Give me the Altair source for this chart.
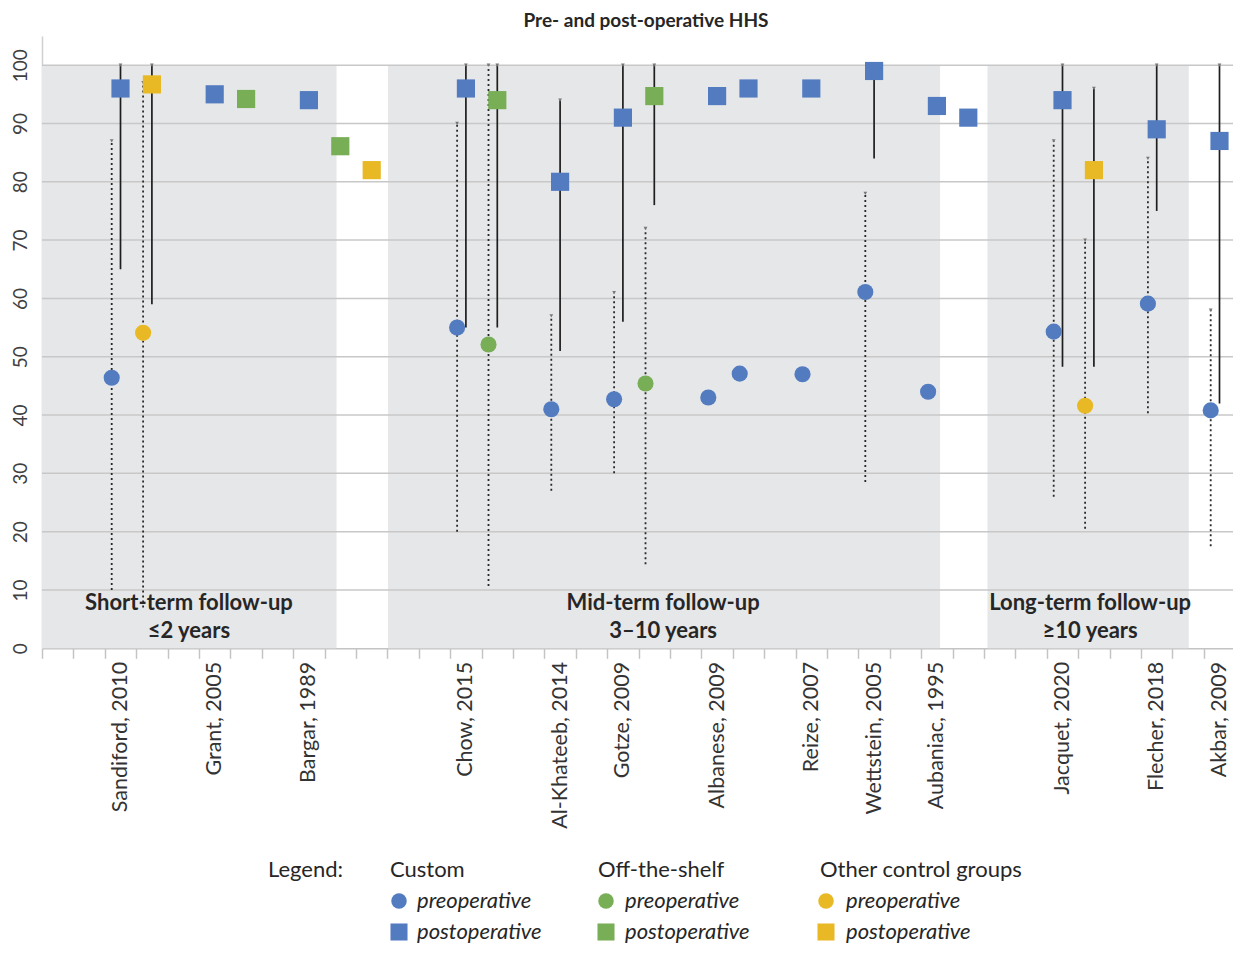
import altair as alt
import pandas as pd

FONT = "Lato"

# ---------------- data ----------------
studies = ["Sandiford, 2010", "Grant, 2005", "Bargar, 1989", "Chow, 2015", "Al-Khateeb, 2014",
           "Gotze, 2009", "Albanese, 2009", "Reize, 2007", "Wettstein, 2005", "Aubaniac, 1995",
           "Jacquet, 2020", "Flecher, 2018", "Akbar, 2009"]
study_slot = [2, 5, 8, 13, 16, 18, 21, 24, 26, 28, 32, 35, 37]

groups = ["Custom", "Off-the-shelf", "Other control groups"]
colors = ["#527BC0", "#78AE55", "#E8B825"]

C, S, O = groups

# preoperative HHS (mean, low/high whisker)
pre_slot = [2, 3, 13, 14, 16, 18, 19, 21, 22, 24, 26, 28, 32, 33, 35, 37]
pre_group = [C, O, C, S, C, C, S, C, C, C, C, C, C, O, C, C]
pre_mean = [46.4, 54.1, 55.0, 52.1, 41.0, 42.7, 45.4, 43.0, 47.1, 47.0, 61.1, 44.0, 54.3, 41.6, 59.1, 40.8]
pre_low = [10, 7, 20, 10.7, 27, 30, 14.4, None, None, None, 28.5, None, 26, 20.5, 40.3, 17.5]
pre_high = [87, 97, 90, 100, 57, 61, 72, None, None, None, 78, None, 87, 70, 84, 58]

# postoperative HHS
post_slot = [2, 3, 5, 6, 8, 9, 10, 13, 14, 16, 18, 19, 21, 22, 24, 26, 28, 29, 32, 33, 35, 37]
post_group = [C, O, C, S, C, S, O, C, S, C, C, S, C, C, C, C, C, C, C, O, C, C]
post_mean = [96, 96.7, 95, 94.2, 94, 86.1, 82, 96, 94, 80, 91, 94.7, 94.7, 96, 96, 99, 93, 91, 94, 82, 89, 87]
post_low = [65, 59, None, None, None, None, None, 55, 55, 51, 56, 76, None, None, None, 84, None, None, 48.3, 48.3, 75, 42]
post_high = [100, 100, None, None, None, None, None, 100, 100, 94, 100, 100, None, None, None, 100, None, None, 100, 96, 100, 100]

# follow-up periods (shaded)
period_start = [0, 11.02, 30.11]
period_end = [9.38, 28.6, 36.52]
period_line1 = ["Short-term follow-up", "Mid-term follow-up", "Long-term follow-up"]
period_line2 = ["≤2 years", "3–10 years", "≥10 years"]
period_center = [4.68, 19.78, 33.38]

grid_vals = [10, 20, 30, 40, 50, 60, 70, 80, 90, 100]
title_text = "Pre- and post-operative HHS"

# ---------------- layout ----------------
BAND = 31.4
W, H = 1191, 612.3
X_MAX = W / BAND

xs = alt.Scale(domain=[0, X_MAX], nice=False, zero=False)
ys = alt.Scale(domain=[0, 105], nice=False, zero=False)

tick_vals = list(range(0, 38))
label_vals = [s + 0.5 for s in study_slot]
label_expr = " : ".join(f"datum.value == {v} ? '{n}'" for v, n in zip(label_vals, studies)) + " : ''"

xaxis = alt.Axis(values=tick_vals + label_vals, labelExpr=label_expr, title=None, grid=False,
                 tickOpacity={"condition": {"test": "datum.value % 1 != 0", "value": 0}, "value": 1},
                 tickSize=10, tickWidth=1.5, tickColor="#C4C4C4", domainColor="#C4C4C4", domainWidth=1.5,
                 labelAngle=270, labelAlign="right", labelBaseline="middle", labelPadding=3,
                 labelFontSize=21.5, labelFont=FONT, labelColor="#333333", labelOverlap=False,
                 labelFlush=False, labelBound=False)
yaxis = alt.Axis(values=list(range(0, 101, 10)), title=None, grid=False, ticks=False,
                 domainColor="#D0D0D0", domainWidth=1.5, labelAngle=270, labelAlign="center",
                 labelBaseline="bottom", labelPadding=12, labelFontSize=19, labelFont=FONT,
                 labelColor="#404040", labelFlush=False, labelOverlap=False)

col = alt.Color("group:N", scale=alt.Scale(domain=groups, range=colors), legend=None)

pre_df = pd.DataFrame({"slot": pre_slot, "group": pre_group, "mean": pre_mean, "lo": pre_low, "hi": pre_high})
post_df = pd.DataFrame({"slot": post_slot, "group": post_group, "mean": post_mean, "lo": post_low, "hi": post_high})
per_df = pd.DataFrame({"x": period_start, "x2": period_end, "y": [0] * 3, "y2": [100] * 3})
lab_df = pd.DataFrame({"x": period_center * 2, "t": period_line1 + period_line2,
                       "y": [7.8] * 3 + [3.0] * 3})
grid_df = pd.DataFrame({"v": grid_vals})

shade = alt.Chart(per_df).mark_rect(color="#E6E7E9").encode(
    x=alt.X("x:Q", scale=xs, axis=xaxis), x2="x2", y=alt.Y("y:Q", scale=ys, axis=yaxis), y2="y2")

grid = alt.Chart(grid_df).mark_rule(color="#C8C8C8", strokeWidth=1.5).encode(
    y=alt.Y("v:Q", scale=ys, axis=yaxis), x=alt.value(0), x2=alt.value(W))

labels = alt.Chart(lab_df).mark_text(font=FONT, fontSize=22, fontWeight="bold", color="#262626",
                                     align="center", baseline="middle").encode(
    x=alt.X("x:Q", scale=xs, axis=xaxis), y=alt.Y("y:Q", scale=ys, axis=yaxis), text="t")

pre_base = alt.Chart(pre_df).transform_calculate(x="datum.slot + 0.22")
post_base = alt.Chart(post_df).transform_calculate(x="datum.slot + 0.5")

pre_err = pre_base.transform_filter("isValid(datum.lo)").mark_rule(
    strokeDash=[2, 3], strokeWidth=1.8, color="#2A2A2A").encode(
    x=alt.X("x:Q", scale=xs, axis=xaxis), y=alt.Y("lo:Q", scale=ys, axis=yaxis), y2="hi")
post_err = post_base.transform_filter("isValid(datum.lo)").mark_rule(
    strokeWidth=1.7, color="#1E1E1E").encode(
    x=alt.X("x:Q", scale=xs, axis=xaxis), y=alt.Y("lo:Q", scale=ys, axis=yaxis), y2="hi")
pre_cap = pre_base.transform_filter("isValid(datum.hi)").mark_point(
    shape="triangle-down", size=14, filled=True, color="#777777", opacity=1).encode(
    x=alt.X("x:Q", scale=xs, axis=xaxis), y=alt.Y("hi:Q", scale=ys, axis=yaxis))
post_cap = post_base.transform_filter("isValid(datum.hi)").mark_point(
    shape="triangle-down", size=14, filled=True, color="#777777", opacity=1).encode(
    x=alt.X("x:Q", scale=xs, axis=xaxis), y=alt.Y("hi:Q", scale=ys, axis=yaxis))

pre_pts = pre_base.mark_point(shape="circle", filled=True, size=260, opacity=1).encode(
    x=alt.X("x:Q", scale=xs, axis=xaxis), y=alt.Y("mean:Q", scale=ys, axis=yaxis), color=col)
post_pts = post_base.mark_square(size=330, opacity=1).encode(
    x=alt.X("x:Q", scale=xs, axis=xaxis), y=alt.Y("mean:Q", scale=ys, axis=yaxis), color=col)

# ---------------- legend (pixel layout) ----------------
leg_head_df = pd.DataFrame({"lx": [226, 348, 556, 778], "ly": [834] * 4,
                            "t": ["Legend:"] + groups})
leg_item_df = pd.DataFrame({
    "lx": [375, 583, 804] * 2, "ly": [865] * 3 + [896] * 3,
    "t": ["preoperative"] * 3 + ["postoperative"] * 3})
leg_mark_df = pd.DataFrame({"lx": [357, 564, 784], "group": groups})

leg_head = alt.Chart(leg_head_df).mark_text(font=FONT, fontSize=22, color="#262626", align="left",
                                            baseline="middle").encode(
    x=alt.X("lx:Q", scale=None, axis=None), y=alt.Y("ly:Q", scale=None, axis=None), text="t")
leg_item = alt.Chart(leg_item_df).mark_text(font=FONT, fontSize=22, fontStyle="italic", color="#262626",
                                            align="left", baseline="middle").encode(
    x=alt.X("lx:Q", scale=None, axis=None), y=alt.Y("ly:Q", scale=None, axis=None), text="t")
leg_circ = alt.Chart(leg_mark_df).mark_point(shape="circle", filled=True, size=240, opacity=1).encode(
    x=alt.X("lx:Q", scale=None, axis=None), y=alt.value(865), color=col)
leg_sq = alt.Chart(leg_mark_df).mark_square(size=290, opacity=1).encode(
    x=alt.X("lx:Q", scale=None, axis=None), y=alt.value(896), color=col)

title = alt.Chart(pd.DataFrame({"t": [title_text]})).mark_text(
    font=FONT, fontSize=19, fontWeight="bold", color="#262626", align="center", baseline="middle").encode(
    text="t", x=alt.value(604), y=alt.value(-15))

chart = alt.layer(shade, grid, labels, pre_err, post_err, pre_cap, post_cap, pre_pts, post_pts,
                  leg_head, leg_item, leg_circ, leg_sq, title).properties(
    width=W, height=H,
    autosize=alt.AutoSizeParams(type="none"),
    padding={"left": 34, "top": 28, "right": 0, "bottom": 296.7},
).configure_view(stroke=None)

chart.save("out.html", embed_options={"renderer": "svg", "actions": False})
